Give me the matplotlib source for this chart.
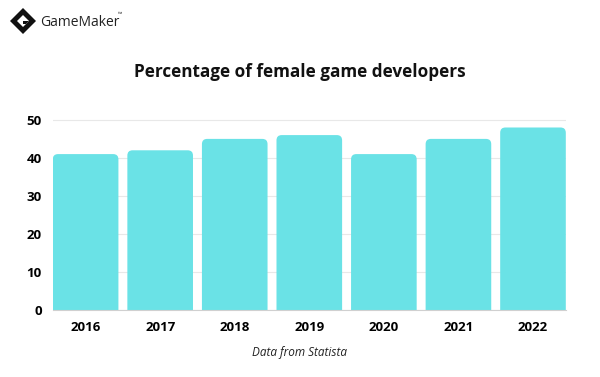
import matplotlib; matplotlib.use('Agg')
import matplotlib.pyplot as plt
from matplotlib.patches import FancyBboxPatch, Polygon

years = ['2016', '2017', '2018', '2019', '2020', '2021', '2022']
female_pct = [41, 42, 45, 46, 41, 45, 48]
y_ticks = [0, 10, 20, 30, 40, 50]

BAR = '#6ae2e6'
plt.rcParams['font.family'] = ['Open Sans', 'DejaVu Sans']

W, H = 600, 377
fig = plt.figure(figsize=(W / 100, H / 100), dpi=100)
fig.patch.set_facecolor('white')
ax = fig.add_axes([0.088, 0.178, 0.855, 0.507])

x = list(range(len(years)))
bars = ax.bar(x, female_pct, width=0.88, color=BAR, zorder=2)
ax.set_xlim(-0.44, 6.44)
ax.set_ylim(0, 50.3)

# swap plain bars for rounded-top ones (bottom pushed below 0 and clipped)
aspect = (50.3 / (0.507 * H)) / (6.88 / (0.855 * W))
for b in bars:
    bx, bw, bh = b.get_x(), b.get_width(), b.get_height()
    b.set_visible(False)
    p = FancyBboxPatch((bx, -3), bw, bh + 3,
                       boxstyle='round,pad=0,rounding_size=0.07',
                       mutation_aspect=aspect, fc=BAR, ec='none', zorder=2)
    ax.add_patch(p)

ax.set_yticks(y_ticks)
ax.set_xticks(x)
ax.set_xticklabels(years)
ax.tick_params(length=0, labelsize=9.5, pad=8)
for lb in ax.get_xticklabels() + ax.get_yticklabels():
    lb.set_fontweight('bold')
ax.yaxis.grid(True, color='#e8e8e8', lw=0.8, zorder=0)
for s in ['top', 'right', 'left']:
    ax.spines[s].set_visible(False)
ax.spines['bottom'].set_color('#d0d0d0')
ax.spines['bottom'].set_zorder(3)

fig.text(0.5, 0.81, 'Percentage of female game developers', ha='center',
         va='center', fontsize=12.3, fontweight='bold', color='#111111')
fig.text(0.5, 0.066, 'Data from Statista', ha='center', va='center',
         fontsize=8.5, style='italic', color='#222222')

# GameMaker logo (approximate), built in pixel units
def px(pts):
    return [[u / W, 1 - v / H] for u, v in pts]

cx, cy, r = 23, 21, 13
fig.add_artist(Polygon(px([[cx - r, cy], [cx, cy - r], [cx + r, cy], [cx, cy + r]]),
                       closed=True, transform=fig.transFigure, fc='#111111', ec='none'))
ri = 6
fig.add_artist(Polygon(px([[cx - ri, cy], [cx, cy - ri], [cx + ri, cy], [cx, cy + ri]]),
                       closed=True, transform=fig.transFigure, fc='white', ec='none'))
fig.add_artist(Polygon(px([[cx, cy], [cx + ri, cy], [cx + 3, cy + 3], [cx, cy + 3]]),
                       closed=True, transform=fig.transFigure, fc='#111111', ec='none'))
fig.text(40 / W, 1 - 22 / H, 'GameMaker', ha='left', va='center', fontsize=10,
         color='#222222')
fig.text(118 / W, 1 - 15 / H, '™', ha='left', va='center', fontsize=4, color='#222222')

fig.savefig('out.png', dpi=100, facecolor='white')
